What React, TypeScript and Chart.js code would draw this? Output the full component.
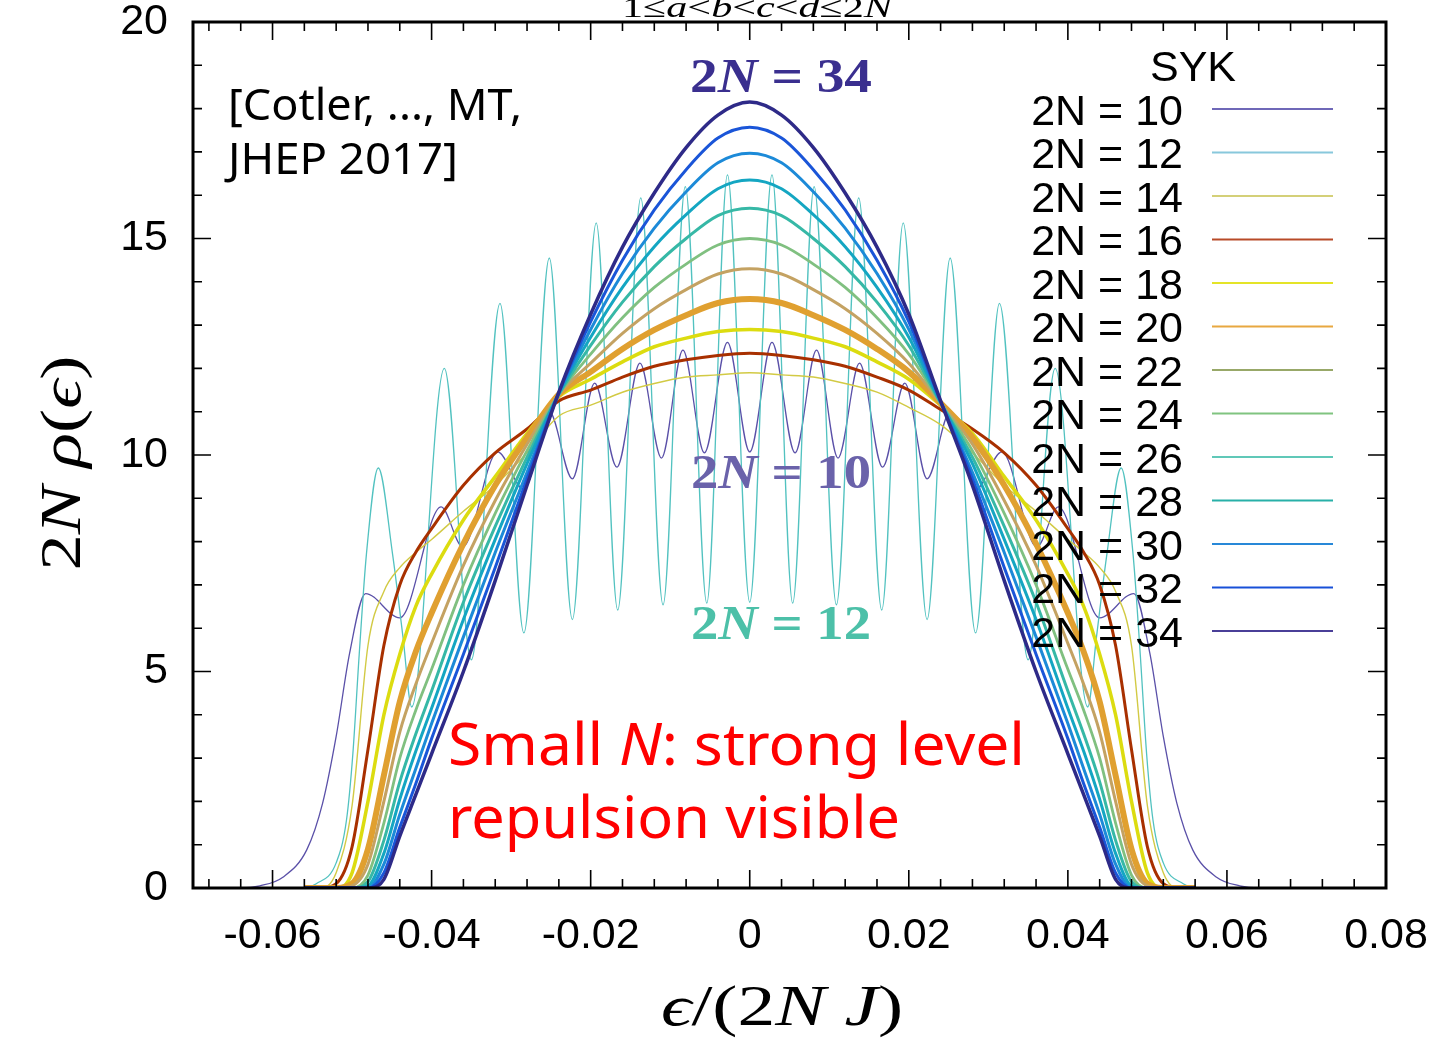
import React, { useEffect, useRef } from "react";
import { Chart, registerables } from "chart.js";

Chart.register(...registerables);

// ---------- DATA ----------
const xTickValues = [-0.06, -0.04, -0.02, 0, 0.02, 0.04, 0.06, 0.08];
const xTickLabels = ["-0.06", "-0.04", "-0.02", "0", "0.02", "0.04", "0.06", "0.08"];
const yTickValues = [0, 5, 10, 15, 20];
const yTickLabels = ["0", "5", "10", "15", "20"];

const seriesLabels = [
  "2N = 10", "2N = 12", "2N = 14", "2N = 16", "2N = 18", "2N = 20", "2N = 22",
  "2N = 24", "2N = 26", "2N = 28", "2N = 30", "2N = 32", "2N = 34",
];

// common energy grid for the smooth (larger N) curves
const gridX = [
  -0.056, -0.054, -0.052, -0.05, -0.048, -0.046, -0.044, -0.042, -0.04, -0.036, -0.032, -0.028,
  -0.024, -0.02, -0.016, -0.012, -0.008, -0.004, 0, 0.004, 0.008, 0.012, 0.016, 0.02, 0.024,
  0.028, 0.032, 0.036, 0.04, 0.042, 0.044, 0.046, 0.048, 0.05, 0.052, 0.054, 0.056,
];

const rho34 = [0, 0, 0, 0, 0, 0.2, 1.2, 2.15, 3.1, 5.0, 7.1, 9.3, 11.45, 13.25, 14.8, 16.05, 17.1, 17.85, 18.15, 17.85, 17.1, 16.05, 14.8, 13.25, 11.25, 9.3, 7.1, 5.0, 3.1, 2.15, 1.2, 0.2, 0, 0, 0, 0, 0];
const rho32 = [0, 0, 0, 0, 0, 0.35, 1.4, 2.4, 3.45, 5.4, 7.4, 9.45, 11.44, 13.08, 14.5, 15.66, 16.59, 17.32, 17.57, 17.32, 16.59, 15.66, 14.5, 13.08, 11.24, 9.45, 7.4, 5.4, 3.45, 2.4, 1.4, 0.35, 0, 0, 0, 0, 0];
const rho30 = [0, 0, 0, 0, 0, 0.55, 1.7, 2.75, 3.8, 5.8, 7.75, 9.6, 11.43, 12.9, 14.19, 15.24, 16.08, 16.75, 16.97, 16.75, 16.08, 15.24, 14.19, 12.9, 11.23, 9.6, 7.75, 5.8, 3.8, 2.75, 1.7, 0.55, 0, 0, 0, 0, 0];
const rho28 = [0, 0, 0, 0, 0.05, 0.8, 2.05, 3.15, 4.15, 6.2, 8.05, 9.8, 11.42, 12.72, 13.87, 14.81, 15.55, 16.15, 16.35, 16.15, 15.55, 14.81, 13.87, 12.72, 11.22, 9.8, 8.05, 6.2, 4.15, 3.15, 2.05, 0.8, 0.05, 0, 0, 0, 0];
const rho26 = [0, 0, 0, 0, 0.15, 1.1, 2.45, 3.55, 4.55, 6.6, 8.35, 9.95, 11.4, 12.53, 13.53, 14.35, 15.0, 15.53, 15.7, 15.53, 15.0, 14.35, 13.53, 12.53, 11.2, 9.95, 8.35, 6.6, 4.55, 3.55, 2.45, 1.1, 0.15, 0, 0, 0, 0];
const rho24 = [0, 0, 0, 0, 0.3, 1.5, 3.0, 4.1, 5.05, 7.0, 8.65, 10.1, 11.4, 12.33, 13.17, 13.87, 14.41, 14.85, 15.0, 14.85, 14.41, 13.87, 13.17, 12.33, 11.2, 10.1, 8.65, 7.0, 5.05, 4.1, 3.0, 1.5, 0.3, 0, 0, 0, 0];
const rho22 = [0, 0, 0, 0.05, 0.55, 2.0, 3.6, 4.7, 5.65, 7.45, 8.95, 10.25, 11.4, 12.12, 12.81, 13.38, 13.82, 14.18, 14.3, 14.18, 13.82, 13.38, 12.81, 12.12, 11.2, 10.25, 8.95, 7.45, 5.65, 4.7, 3.6, 2.0, 0.55, 0.05, 0, 0, 0];
const rho20 = [0, 0, 0, 0.1, 0.9, 2.6, 4.3, 5.45, 6.35, 7.95, 9.3, 10.4, 11.4, 11.92, 12.45, 12.89, 13.23, 13.51, 13.6, 13.51, 13.23, 12.89, 12.45, 11.92, 11.2, 10.4, 9.3, 7.95, 6.35, 5.45, 4.3, 2.6, 0.9, 0.1, 0, 0, 0];
const rho18 = [0, 0, 0, 0.35, 2.0, 4.0, 5.4, 6.5, 7.25, 8.5, 9.5, 10.5, 11.35, 11.75, 12.15, 12.5, 12.7, 12.85, 12.9, 12.85, 12.7, 12.5, 12.15, 11.75, 11.15, 10.5, 9.5, 8.5, 7.25, 6.5, 5.4, 4.0, 2.0, 0.35, 0, 0, 0];
const rho16 = [0, 0, 0.1, 0.95, 3.2, 5.6, 7.0, 7.75, 8.3, 9.3, 10.05, 10.6, 11.25, 11.5, 11.8, 12.05, 12.2, 12.3, 12.35, 12.3, 12.2, 12.05, 11.8, 11.5, 11.05, 10.6, 10.05, 9.3, 8.3, 7.75, 7.0, 5.6, 3.2, 0.95, 0.1, 0, 0];
const rho14 = [0, 0, 0.35, 1.9, 5.6, 6.85, 7.4, 7.75, 8.05, 8.7, 9.3, 10.05, 10.9, 11.15, 11.45, 11.65, 11.8, 11.85, 11.9, 11.85, 11.8, 11.65, 11.45, 11.1, 10.7, 10.05, 9.3, 8.7, 8.05, 7.75, 7.4, 6.85, 5.6, 1.9, 0.35, 0, 0];

// 2N = 12 : strongly oscillating density (peaks / troughs)
const x12 = [
  -0.06, -0.0565, -0.0545, -0.052, -0.0507, -0.0499, -0.0491, -0.0482, -0.0467, -0.0449, -0.0436, -0.0425,
  -0.0384, -0.035, -0.0314, -0.0284, -0.0252, -0.0223, -0.0193, -0.0166, -0.0137, -0.0109, -0.0081, -0.0054,
  -0.0028, 0, 0.0028, 0.0054, 0.0081, 0.0109, 0.0137, 0.0166, 0.0193, 0.0223, 0.0252, 0.0284, 0.0314, 0.035,
  0.0384, 0.0425, 0.0436, 0.0449, 0.0467, 0.0482, 0.0491, 0.0499, 0.0507, 0.052, 0.0545, 0.0565, 0.06,
];
const rho12 = [
  0, 0, 0.1, 0.58, 1.57, 3.1, 5.4, 7.7, 9.7, 7.7, 5.8, 4.18,
  12.0, 5.27, 13.5, 5.89, 14.55, 6.2, 15.36, 6.42, 15.94, 6.54, 16.2, 6.58,
  16.47, 6.6, 16.47, 6.58, 16.2, 6.54, 15.94, 6.42, 15.36, 6.2, 14.55, 5.89, 13.5, 5.27,
  12.0, 4.18, 5.8, 7.7, 9.7, 7.7, 5.4, 3.1, 1.57, 0.58, 0.1, 0, 0,
];

// 2N = 10 : oscillating density with wide tails
const x10 = [
  -0.066, -0.064, -0.0616, -0.0587, -0.0557, -0.0537, -0.052, -0.0503, -0.0483, -0.044, -0.0388, -0.0361,
  -0.0317, -0.0284, -0.0252, -0.0223, -0.0195, -0.0167, -0.0138, -0.0111, -0.0084, -0.0057, -0.0028, 0,
  0.0028, 0.0057, 0.0084, 0.0111, 0.0138, 0.0167, 0.0195, 0.0223, 0.0252, 0.0284, 0.0317, 0.0361, 0.0388,
  0.044, 0.0483, 0.0503, 0.052, 0.0537, 0.0557, 0.0587, 0.0616, 0.064, 0.066,
];
const rho10 = [
  0, 0, 0.05, 0.25, 0.88, 1.96, 3.5, 5.43, 6.8, 6.24, 8.8, 7.88,
  10.07, 9.2, 11.0, 9.45, 11.66, 9.72, 12.12, 9.93, 12.42, 10.05, 12.6, 10.07,
  12.6, 10.05, 12.42, 9.93, 12.12, 9.72, 11.66, 9.45, 11.0, 9.2, 10.07, 7.88, 8.8,
  6.24, 6.8, 5.43, 3.5, 1.96, 0.88, 0.25, 0.05, 0, 0,
];

// ---------- STYLE ----------
const plotColors = [
  "#5a50a8", "#52c2c0", "#d2ca44", "#a83000", "#dcdc10", "#e0a030", "#c4a262",
  "#80c080", "#36b8a6", "#14a6c2", "#1c8ad8", "#1a55d8", "#2e2a88",
];
const legendColors = [
  "#6f68b8", "#88c8dc", "#d4d078", "#b84a28", "#e4e428", "#e8a840", "#98a868",
  "#80c480", "#60c8b8", "#28b0a8", "#2888d8", "#1850d8", "#4a3f98",
];
const lineWidths = [1.3, 1.3, 1.4, 3, 3.5, 6, 3, 2.8, 3, 3, 3, 3, 3.5];

const SANS = "'Liberation Sans', Arial, sans-serif";
const SERIF = "'Liberation Serif', 'DejaVu Serif', serif";
const NOTO = "'Noto Sans', 'Open Sans', sans-serif";

type Seg = [string, string];

function drawRich(
  ctx: CanvasRenderingContext2D,
  segs: Seg[],
  x: number,
  y: number,
  align: "left" | "center" | "right",
  targetW?: number
) {
  ctx.save();
  ctx.textAlign = "left";
  ctx.textBaseline = "alphabetic";
  const widths = segs.map(([t, f]) => {
    ctx.font = f;
    return ctx.measureText(t).width;
  });
  const natural = widths.reduce((a, b) => a + b, 0);
  const sx = targetW ? targetW / natural : 1;
  const total = natural * sx;
  const start = align === "left" ? x : align === "center" ? x - total / 2 : x - total;
  ctx.translate(start, y);
  ctx.scale(sx, 1);
  let cx = 0;
  segs.forEach(([t, f], i) => {
    ctx.font = f;
    ctx.fillText(t, cx, 0);
    cx += widths[i];
  });
  ctx.restore();
}

const framePlugin = {
  id: "frame",
  beforeDraw(chart: any) {
    const ctx = chart.ctx;
    ctx.save();
    ctx.fillStyle = "#ffffff";
    ctx.fillRect(0, 0, chart.width, chart.height);
    ctx.restore();
  },
  afterDatasetsDraw(chart: any) {
    const ctx: CanvasRenderingContext2D = chart.ctx;
    const { left, right, top, bottom } = chart.chartArea;
    const xs = chart.scales.x;
    const ys = chart.scales.y;
    ctx.save();
    ctx.strokeStyle = "#000";
    ctx.lineWidth = 1.6;
    const major = 18;
    const minor = 9;
    ctx.beginPath();
    for (let k = -17; k <= 20; k++) {
      const v = k * 0.004;
      if (v < -0.07 + 1e-9 || v > 0.08 + 1e-9) continue;
      const px = xs.getPixelForValue(v);
      const len = k % 5 === 0 ? major : minor;
      ctx.moveTo(px, bottom);
      ctx.lineTo(px, bottom - len);
      ctx.moveTo(px, top);
      ctx.lineTo(px, top + len);
    }
    for (let k = 0; k <= 20; k++) {
      const py = ys.getPixelForValue(k);
      const len = k % 5 === 0 ? major : minor;
      ctx.moveTo(left, py);
      ctx.lineTo(left + len, py);
      ctx.moveTo(right, py);
      ctx.lineTo(right - len, py);
    }
    ctx.stroke();
    ctx.lineWidth = 3;
    ctx.strokeRect(left, top, right - left, bottom - top);
    ctx.restore();
  },
};

const textPlugin = {
  id: "texts",
  afterDraw(chart: any) {
    const ctx: CanvasRenderingContext2D = chart.ctx;
    ctx.save();

    // top (clipped) formula
    ctx.fillStyle = "#000";
    const tf = `30px ${SERIF}`;
    const ti = `italic 30px ${SERIF}`;
    drawRich(
      ctx,
      [["1", tf], ["≤", tf], ["a", ti], ["<", tf], ["b", ti], ["<", tf], ["c", ti], ["<", tf], ["d", ti], ["≤", tf], ["2", tf], ["N", ti]],
      757, 17, "center", 270
    );

    // citation
    ctx.fillStyle = "#000";
    drawRich(ctx, [["[Cotler, ..., MT,", `43px ${NOTO}`]], 228, 120, "left", 294);
    drawRich(ctx, [["JHEP 2017]", `43px ${NOTO}`]], 228, 174, "left", 230);

    // curve labels
    const bf = `bold 48px ${SERIF}`;
    const bi = `italic bold 48px ${SERIF}`;
    ctx.fillStyle = "#3a2f8f";
    drawRich(ctx, [["2", bf], ["N", bi], [" = ", bf], ["34", bf]], 781, 92, "center", 182);
    ctx.fillStyle = "#6a62aa";
    drawRich(ctx, [["2", bf], ["N", bi], [" = ", bf], ["10", bf]], 781, 488, "center", 180);
    ctx.fillStyle = "#4cc0a8";
    drawRich(ctx, [["2", bf], ["N", bi], [" = ", bf], ["12", bf]], 781, 639, "center", 180);

    // red remark
    ctx.fillStyle = "#ff0000";
    const rf = `58px ${NOTO}`;
    const ri = `italic 58px ${NOTO}`;
    drawRich(ctx, [["Small ", rf], ["N", ri], [": strong level", rf]], 448, 765, "left", 577);
    drawRich(ctx, [["repulsion visible", rf]], 448, 838, "left", 452);

    // legend
    ctx.fillStyle = "#000";
    drawRich(ctx, [["SYK", `43px ${SANS}`]], 1193, 81, "center");
    seriesLabels.forEach((lab, i) => {
      const ly = 109 + 43.5 * i;
      ctx.fillStyle = "#000";
      drawRich(ctx, [[lab, `43px ${SANS}`]], 1183, ly + 15.5, "right");
      ctx.strokeStyle = legendColors[i];
      ctx.lineWidth = 2;
      ctx.beginPath();
      ctx.moveTo(1212, ly);
      ctx.lineTo(1333, ly);
      ctx.stroke();
    });

    // axis titles
    ctx.fillStyle = "#000";
    const af = `56px ${SERIF}`;
    const ai = `italic 56px ${SERIF}`;
    drawRich(ctx, [["ϵ", ai], ["/(", af], ["2", af], ["N", ai], [" ", af], ["J", ai], [")", af]], 782, 1025, "center", 242);
    ctx.save();
    ctx.translate(80, 463);
    ctx.rotate(-Math.PI / 2);
    drawRich(ctx, [["2", af], ["N", ai], [" ", af], ["ρ", ai], ["(", af], ["ϵ", ai], [")", af]], 0, 0, "center", 215);
    ctx.restore();

    ctx.restore();
  },
};

function pairs(xs: number[], ys: number[]) {
  return xs.map((x, i) => ({ x, y: ys[i] }));
}

function zeroPad(s: any) {
  s.paddingTop = 0;
  s.paddingBottom = 0;
  s.paddingLeft = 0;
  s.paddingRight = 0;
}

export default function App() {
  const ref = useRef<HTMLCanvasElement | null>(null);

  useEffect(() => {
    if (!ref.current) return;
    const seriesData = [
      pairs(x10, rho10),
      pairs(x12, rho12),
      pairs(gridX, rho14),
      pairs(gridX, rho16),
      pairs(gridX, rho18),
      pairs(gridX, rho20),
      pairs(gridX, rho22),
      pairs(gridX, rho24),
      pairs(gridX, rho26),
      pairs(gridX, rho28),
      pairs(gridX, rho30),
      pairs(gridX, rho32),
      pairs(gridX, rho34),
    ];
    const datasets = seriesData.map((d, i) => ({
      label: seriesLabels[i],
      data: d,
      borderColor: plotColors[i],
      backgroundColor: plotColors[i],
      borderWidth: lineWidths[i],
      pointRadius: 0,
      fill: false,
      cubicInterpolationMode: "monotone" as const,
      order: seriesLabels.length - 1 - i,
    }));

    const chart = new Chart(ref.current, {
      type: "line",
      data: { datasets },
      options: {
        animation: false,
        responsive: false,
        maintainAspectRatio: false,
        devicePixelRatio: 1,
        layout: { padding: { left: 0, right: 52, top: 22, bottom: 0 } },
        plugins: { legend: { display: false }, tooltip: { enabled: false }, title: { display: false } },
        elements: { point: { radius: 0 } },
        scales: {
          x: {
            type: "linear",
            min: -0.07,
            max: 0.08,
            grid: { display: false, drawTicks: false },
            border: { display: false },
            afterBuildTicks: (s: any) => {
              s.ticks = xTickValues.map((v) => ({ value: v }));
            },
            afterFit: (s: any) => {
              s.height = 150;
              zeroPad(s);
            },
            ticks: {
              color: "#000",
              padding: 22,
              maxRotation: 0,
              autoSkip: false,
              font: { family: "'Liberation Sans', Arial, sans-serif", size: 43 },
              callback: (v: any) => {
                const i = xTickValues.findIndex((t) => Math.abs(t - Number(v)) < 1e-9);
                return i >= 0 ? xTickLabels[i] : "";
              },
            },
          },
          y: {
            type: "linear",
            min: 0,
            max: 20,
            grid: { display: false, drawTicks: false },
            border: { display: false },
            afterBuildTicks: (s: any) => {
              s.ticks = yTickValues.map((v) => ({ value: v }));
            },
            afterFit: (s: any) => {
              s.width = 193;
              zeroPad(s);
            },
            ticks: {
              color: "#000",
              padding: 25,
              autoSkip: false,
              font: { family: "'Liberation Sans', Arial, sans-serif", size: 43 },
              callback: (v: any) => {
                const i = yTickValues.findIndex((t) => Math.abs(t - Number(v)) < 1e-9);
                return i >= 0 ? yTickLabels[i] : "";
              },
            },
          },
        },
      },
      plugins: [framePlugin, textPlugin],
    } as any);

    return () => chart.destroy();
  }, []);

  return (
    <div style={{ position: "absolute", left: 0, top: 0, width: 1438, height: 1038 }}>
      <canvas ref={ref} width={1438} height={1038} style={{ width: 1438, height: 1038, display: "block" }} />
    </div>
  );
}
